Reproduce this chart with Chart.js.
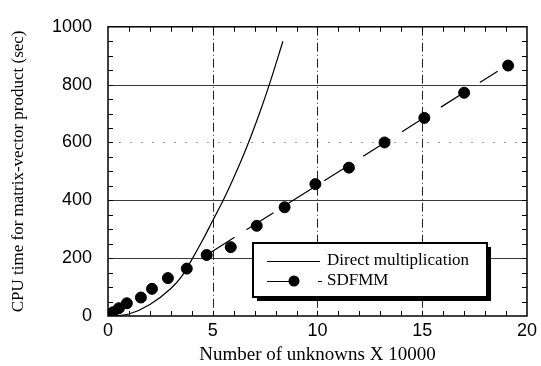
<!DOCTYPE html>
<html>
<head>
<meta charset="utf-8">
<script src="https://cdn.jsdelivr.net/npm/chart.js@4.4.1/dist/chart.umd.min.js"></script>
<style>
  html, body { margin: 0; padding: 0; background: #fff; }
  #wrap { width: 541px; height: 366px; position: relative; }
</style>
</head>
<body>
<div id="wrap"><canvas id="c"></canvas></div>
<script>
// Direct multiplication timing curve (unknowns in units of 10000, seconds)
const directX = [0.3, 1.0, 2.0, 3.0, 3.5, 4.0, 4.5, 5.0, 5.5, 6.0, 6.6, 7.3, 7.7, 8.35];
const directY = [0, 7, 40, 95, 135, 195, 260, 330, 400, 478, 580, 715, 800, 950];

// SDFMM measured timings
const sdfmmX = [0.24, 0.52, 0.9, 1.57, 2.1, 2.86, 3.76, 4.71, 5.86, 7.1, 8.43, 9.9, 11.5, 13.2, 15.1, 17.0, 19.1];
const sdfmmY = [13, 27, 44, 64, 94, 131, 164, 211, 238, 312, 376, 456, 513, 600, 685, 772, 866];

// SDFMM linear trend (dashed)
const sdfmmTrendX = [4.75, 18.6];
const sdfmmTrendY = [213, 846];

// Axis ticks
const xTicks = [0, 5, 10, 15, 20];
const yTicks = [0, 200, 400, 600, 800, 1000];

const seriesNames = ['Direct multiplication', 'SDFMM'];
const xTitle = 'Number of unknowns X 10000';
const yTitle = 'CPU time for matrix-vector product (sec)';

const zip = (xs, ys) => xs.map((x, i) => ({ x: x, y: ys[i] }));

const SANS = '"Liberation Sans", Arial, sans-serif';
const SERIF = '"Liberation Serif", "Times New Roman", serif';

// Grid lines, frame and inward minor ticks
const framePlugin = {
  id: 'frame',
  beforeDatasetsDraw(chart) {
    const { ctx, chartArea: a, scales: { x, y } } = chart;
    ctx.save();
    // horizontal grid
    yTicks.forEach(v => {
      if (v === 0 || v === 1000) return;
      const py = Math.round(y.getPixelForValue(v)) + 0.5;
      ctx.beginPath();
      if (v === 600) {
        ctx.strokeStyle = '#9a9a9a';
        ctx.setLineDash([2, 9]);
      } else {
        ctx.strokeStyle = '#3a3a3a';
        ctx.setLineDash([]);
      }
      ctx.lineWidth = 1;
      ctx.moveTo(a.left, py);
      ctx.lineTo(a.right, py);
      ctx.stroke();
    });
    // vertical dash-dot grid
    ctx.setLineDash([9, 3, 1, 3]);
    ctx.strokeStyle = '#222';
    xTicks.forEach(v => {
      if (v === 0 || v === 20) return;
      const px = Math.round(x.getPixelForValue(v)) + 0.5;
      ctx.beginPath();
      ctx.moveTo(px, a.top);
      ctx.lineTo(px, a.bottom);
      ctx.stroke();
    });
    ctx.restore();
  },
  afterDatasetsDraw(chart) {
    const { ctx, chartArea: a, scales: { x, y } } = chart;
    ctx.save();
    ctx.strokeStyle = '#000';
    ctx.lineWidth = 1;
    ctx.setLineDash([]);
    // minor ticks, x every 1 unit
    for (let v = 1; v < 20; v++) {
      const px = Math.round(x.getPixelForValue(v)) + 0.5;
      ctx.beginPath();
      ctx.moveTo(px, a.bottom); ctx.lineTo(px, a.bottom - 5);
      ctx.moveTo(px, a.top); ctx.lineTo(px, a.top + 5);
      ctx.stroke();
    }
    // minor ticks, y every 50
    for (let v = 50; v < 1000; v += 50) {
      const py = Math.round(y.getPixelForValue(v)) + 0.5;
      ctx.beginPath();
      ctx.moveTo(a.left, py); ctx.lineTo(a.left + 5, py);
      ctx.moveTo(a.right, py); ctx.lineTo(a.right - 5, py);
      ctx.stroke();
    }
    // frame
    ctx.lineWidth = 1.5;
    ctx.strokeRect(a.left, a.top, a.right - a.left, a.bottom - a.top);
    ctx.restore();
  }
};

// Boxed legend with drop shadow, lower right
const legendPlugin = {
  id: 'boxLegend',
  afterDraw(chart) {
    const { ctx } = chart;
    const bx = 253, by = 243, bw = 234, bh = 54;
    ctx.save();
    ctx.fillStyle = '#000';
    ctx.fillRect(bx + 4, by + 4, bw, bh);
    ctx.fillStyle = '#fff';
    ctx.fillRect(bx, by, bw, bh);
    ctx.strokeStyle = '#000';
    ctx.lineWidth = 2;
    ctx.strokeRect(bx, by, bw, bh);

    ctx.font = '17px ' + SERIF;
    ctx.fillStyle = '#000';
    ctx.textBaseline = 'middle';
    ctx.textAlign = 'left';

    // Direct multiplication
    const y1 = by + 18, y2 = by + 38;
    ctx.lineWidth = 1;
    ctx.beginPath();
    ctx.moveTo(bx + 14, y1 + 0.5); ctx.lineTo(bx + 67, y1 + 0.5);
    ctx.stroke();
    ctx.fillText(seriesNames[0], bx + 74, y1);

    // SDFMM
    ctx.beginPath();
    ctx.moveTo(bx + 14, y2 + 0.5); ctx.lineTo(bx + 38, y2 + 0.5);
    ctx.moveTo(bx + 65, y2 + 0.5); ctx.lineTo(bx + 69, y2 + 0.5);
    ctx.stroke();
    ctx.beginPath();
    ctx.arc(bx + 41, y2, 5.5, 0, Math.PI * 2);
    ctx.fill();
    ctx.fillText(seriesNames[1], bx + 74, y2);
    ctx.restore();
  }
};

new Chart(document.getElementById('c'), {
  type: 'scatter',
  data: {
    datasets: [
      {
        label: seriesNames[0],
        data: zip(directX, directY),
        showLine: true,
        borderColor: '#000',
        borderWidth: 1.2,
        pointRadius: 0,
        cubicInterpolationMode: 'monotone',
        order: 3
      },
      {
        label: 'trend',
        data: zip(sdfmmTrendX, sdfmmTrendY),
        showLine: true,
        borderColor: '#000',
        borderWidth: 1.2,
        borderDash: [32, 14],
        pointRadius: 0,
        order: 2
      },
      {
        label: seriesNames[1],
        data: zip(sdfmmX, sdfmmY),
        showLine: false,
        backgroundColor: '#000',
        borderColor: '#000',
        pointRadius: 5.5,
        pointHoverRadius: 5.5,
        order: 1
      }
    ]
  },
  options: {
    responsive: true,
    maintainAspectRatio: false,
    animation: false,
    events: [],
    layout: { padding: { top: 18, right: 13, left: 0, bottom: 0 } },
    plugins: { legend: { display: false }, tooltip: { enabled: false } },
    scales: {
      x: {
        type: 'linear',
        min: 0, max: 20,
        afterBuildTicks: s => { s.ticks = xTicks.map(v => ({ value: v })); },
        afterFit: s => { s.height = 50; },
        grid: { display: false, drawTicks: false },
        border: { display: false },
        ticks: { color: '#000', padding: 4, font: { family: SANS, size: 18 }, maxRotation: 0,
                 callback: v => String(v) },
        title: { display: true, text: xTitle, color: '#000', font: { family: SERIF, size: 19 }, padding: { top: 0, bottom: 0 } }
      },
      y: {
        type: 'linear',
        min: 0, max: 1000,
        afterBuildTicks: s => { s.ticks = yTicks.map(v => ({ value: v })); },
        afterFit: s => { s.width = 108; },
        grid: { display: false, drawTicks: false },
        border: { display: false },
        ticks: { color: '#000', padding: 16, font: { family: SANS, size: 18 },
                 callback: v => String(v) },
        title: { display: true, text: yTitle, color: '#000', font: { family: SERIF, size: 17 }, padding: { top: 8, bottom: 0 } }
      }
    }
  },
  plugins: [framePlugin, legendPlugin]
});
</script>
</body>
</html>
